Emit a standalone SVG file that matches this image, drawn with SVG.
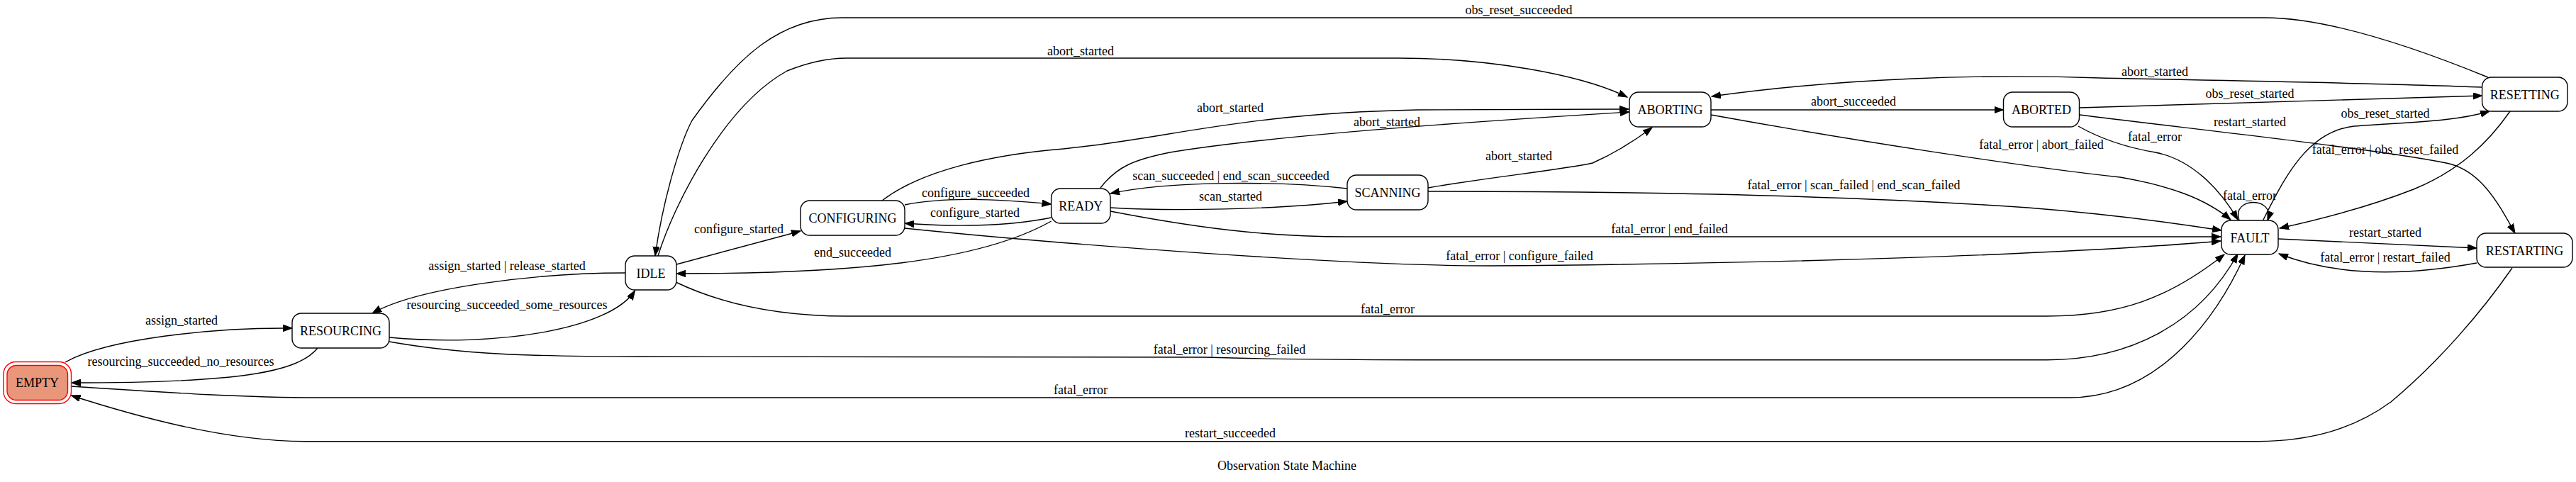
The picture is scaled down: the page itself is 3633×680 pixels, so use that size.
<svg xmlns="http://www.w3.org/2000/svg" width="3633" height="680" viewBox="0 0 3633 680">
<style>
.node rect{fill:#ffffff;stroke:#000000;stroke-width:1.4}
.lbl{font-family:"Liberation Serif","Times New Roman",serif;font-size:18px;fill:#000000;text-anchor:middle}
.edge{fill:none;stroke:#000000;stroke-width:1.4;marker-end:url(#arr)}
</style>
<defs>
<marker id="arr" markerUnits="userSpaceOnUse" markerWidth="14" markerHeight="10" refX="13" refY="4.7" orient="auto">
<path d="M0,0 L13,4.7 L0,9.4 z" fill="#000000" stroke="#000000" stroke-width="1"/>
</marker>
</defs>
<rect x="0" y="0" width="3633" height="680" fill="#ffffff"/>
<g id="connectors">
<path class="edge" d="M92,511 C150,478 300,462 412,463"/>
<path class="edge" d="M448,491 C420,525 340,540 100.5,540"/>
<path class="edge" d="M882,385 C760,385 590,405 525,442"/>
<path class="edge" d="M549,476 C700,490 860,465 895.5,410"/>
<path class="edge" d="M954,373 L1129,326"/>
<path class="edge" d="M1276,289 C1330,278 1400,280 1482.6,288"/>
<path class="edge" d="M1482.6,307 C1420,320 1340,320 1276,315"/>
<path class="edge" d="M1482.6,312 C1380,370 1200,386 954,386"/>
<path class="edge" d="M928,361 C950,290 1020,150 1110,100 C1140,88 1165,82 1194,82 L1973,82 C2100,82 2230,105 2295,137"/>
<path class="edge" d="M3508.7,109 C3450,85 3300,25 3194,25 L1188,25 C1100,25 1040,80 976,170 C960,200 935,280 924,361"/>
<path class="edge" d="M1244,283 C1300,240 1400,218 1500,210 C1650,195 1750,160 2000,155 L2297,154"/>
<path class="edge" d="M1552,265 C1575,235 1600,225 1650,215 C1800,190 2100,170 2298,158"/>
<path class="edge" d="M2014,265 C2100,250 2200,240 2246,230 C2280,215 2310,195 2330,180"/>
<path class="edge" d="M1566,293 C1650,298 1800,296 1900,284"/>
<path class="edge" d="M1900,266 C1800,255 1650,255 1566,273"/>
<path class="edge" d="M2014,270 C2300,270 2600,275 2860,293 C2950,300 3050,312 3133,325"/>
<path class="edge" d="M1566,298 C1680,320 1780,334 1900,334 L3132,334"/>
<path class="edge" d="M1276,322 C1500,345 1900,375 2100,375 C2500,372 2900,360 3132,340"/>
<path class="edge" d="M953,398 C1020,430 1100,446 1194,446 L2887,446 C2990,446 3060,420 3137,359"/>
<path class="edge" d="M549,482 C650,500 750,503 900,503 L1700,504 C1800,507 1900,507.7 2000,507.7 L2887,507.7 C3000,507.7 3100,460 3156,358"/>
<path class="edge" d="M100.5,545 C250,555 350,561 450,561 L2918,561 C3050,561 3130,440 3166,360"/>
<path class="edge" d="M3543,378 C3500,440 3440,510 3372,567 C3320,605 3260,622 3185,622.7 L430,622.7 C320,622 200,590 100.5,558"/>
<path class="edge" d="M2413,155 L2825.5,155"/>
<path class="edge" d="M2413,162 C2600,196 2850,235 2990,250 C3060,262 3110,280 3146,310"/>
<path class="edge" d="M2931,178 C2970,200 3010,210 3040,215 C3090,225 3130,265 3156,310"/>
<path class="edge" d="M3500.6,123 C3350,117 3100,113 2962,110 C2800,104 2600,110 2414,136"/>
<path class="edge" d="M2932.6,152 C3100,147 3300,140 3500.6,135"/>
<path class="edge" d="M2933,162 C3100,183 3350,210 3450,230 C3500,240 3525,290 3547,329"/>
<path class="edge" d="M3192,310 C3222,250 3255,185 3320,178 C3400,172 3460,172 3511,157"/>
<path class="edge" d="M3540,157 C3510,200 3470,240 3404,267 C3340,292 3270,310 3215,322"/>
<path class="edge" d="M3158,311 C3146,277 3210,277 3198,311"/>
<path class="edge" d="M3213,337 L3493,350"/>
<path class="edge" d="M3493,371 C3400,388 3300,392 3214,358"/>
</g>
<g id="edge-labels">
<text class="lbl" x="2142" y="20">obs_reset_succeeded</text>
<text class="lbl" x="1524" y="78">abort_started</text>
<text class="lbl" x="1735" y="158">abort_started</text>
<text class="lbl" x="1956" y="178">abort_started</text>
<text class="lbl" x="2142" y="226">abort_started</text>
<text class="lbl" x="3039" y="107">abort_started</text>
<text class="lbl" x="2614" y="149">abort_succeeded</text>
<text class="lbl" x="3173" y="138">obs_reset_started</text>
<text class="lbl" x="3173" y="178">restart_started</text>
<text class="lbl" x="3039" y="199">fatal_error</text>
<text class="lbl" x="2879" y="210">fatal_error | abort_failed</text>
<text class="lbl" x="3364" y="166">obs_reset_started</text>
<text class="lbl" x="3364" y="217">fatal_error | obs_reset_failed</text>
<text class="lbl" x="3173" y="282">fatal_error</text>
<text class="lbl" x="3364" y="334">restart_started</text>
<text class="lbl" x="3364" y="369">fatal_error | restart_failed</text>
<text class="lbl" x="2614.5" y="267">fatal_error | scan_failed | end_scan_failed</text>
<text class="lbl" x="2354.6" y="329">fatal_error | end_failed</text>
<text class="lbl" x="2143" y="367">fatal_error | configure_failed</text>
<text class="lbl" x="1736" y="254">scan_succeeded | end_scan_succeeded</text>
<text class="lbl" x="1735.6" y="283">scan_started</text>
<text class="lbl" x="1376" y="278">configure_succeeded</text>
<text class="lbl" x="1375" y="306">configure_started</text>
<text class="lbl" x="1042" y="329">configure_started</text>
<text class="lbl" x="1202.5" y="362">end_succeeded</text>
<text class="lbl" x="715" y="381">assign_started | release_started</text>
<text class="lbl" x="715" y="436">resourcing_succeeded_some_resources</text>
<text class="lbl" x="256" y="458">assign_started</text>
<text class="lbl" x="255" y="516">resourcing_succeeded_no_resources</text>
<text class="lbl" x="1957" y="442">fatal_error</text>
<text class="lbl" x="1734" y="499">fatal_error | resourcing_failed</text>
<text class="lbl" x="1524" y="556">fatal_error</text>
<text class="lbl" x="1735" y="617">restart_succeeded</text>
</g>
<g id="node-EMPTY">
<rect x="5" y="510.5" width="95.5" height="59" rx="17" fill="none" stroke="#ff0000" stroke-width="1.4"/>
<rect x="10" y="515.5" width="85.5" height="49" rx="13" fill="#e9967a" stroke="#ff0000" stroke-width="1.4"/>
<text class="lbl" x="52.5" y="546">EMPTY</text>
</g>
<g id="node-RESOURCING" class="node">
<rect x="412" y="442" width="137" height="49" rx="13"/>
<text class="lbl" x="480.5" y="473">RESOURCING</text>
</g>
<g id="node-IDLE" class="node">
<rect x="882" y="361" width="72" height="48" rx="13"/>
<text class="lbl" x="918" y="391.5">IDLE</text>
</g>
<g id="node-CONFIGURING" class="node">
<rect x="1129" y="283" width="147" height="49" rx="13"/>
<text class="lbl" x="1202.5" y="314">CONFIGURING</text>
</g>
<g id="node-READY" class="node">
<rect x="1482.6" y="266" width="83.4" height="49" rx="13"/>
<text class="lbl" x="1524.3" y="297">READY</text>
</g>
<g id="node-SCANNING" class="node">
<rect x="1900" y="247" width="114" height="49" rx="13"/>
<text class="lbl" x="1957" y="278">SCANNING</text>
</g>
<g id="node-ABORTING" class="node">
<rect x="2298" y="130" width="115" height="49" rx="13"/>
<text class="lbl" x="2355.5" y="161">ABORTING</text>
</g>
<g id="node-ABORTED" class="node">
<rect x="2825.5" y="130" width="107" height="49" rx="13"/>
<text class="lbl" x="2879" y="161">ABORTED</text>
</g>
<g id="node-RESETTING" class="node">
<rect x="3500.6" y="109" width="120.4" height="48" rx="13"/>
<text class="lbl" x="3560.8" y="139.5">RESETTING</text>
</g>
<g id="node-FAULT" class="node">
<rect x="3133" y="311" width="80" height="48" rx="13"/>
<text class="lbl" x="3173" y="341.5">FAULT</text>
</g>
<g id="node-RESTARTING" class="node">
<rect x="3493" y="329" width="135" height="48" rx="13"/>
<text class="lbl" x="3560.5" y="359.5">RESTARTING</text>
</g>
<g id="title">
<text class="lbl" x="1815" y="663">Observation State Machine</text>
</g>
</svg>
